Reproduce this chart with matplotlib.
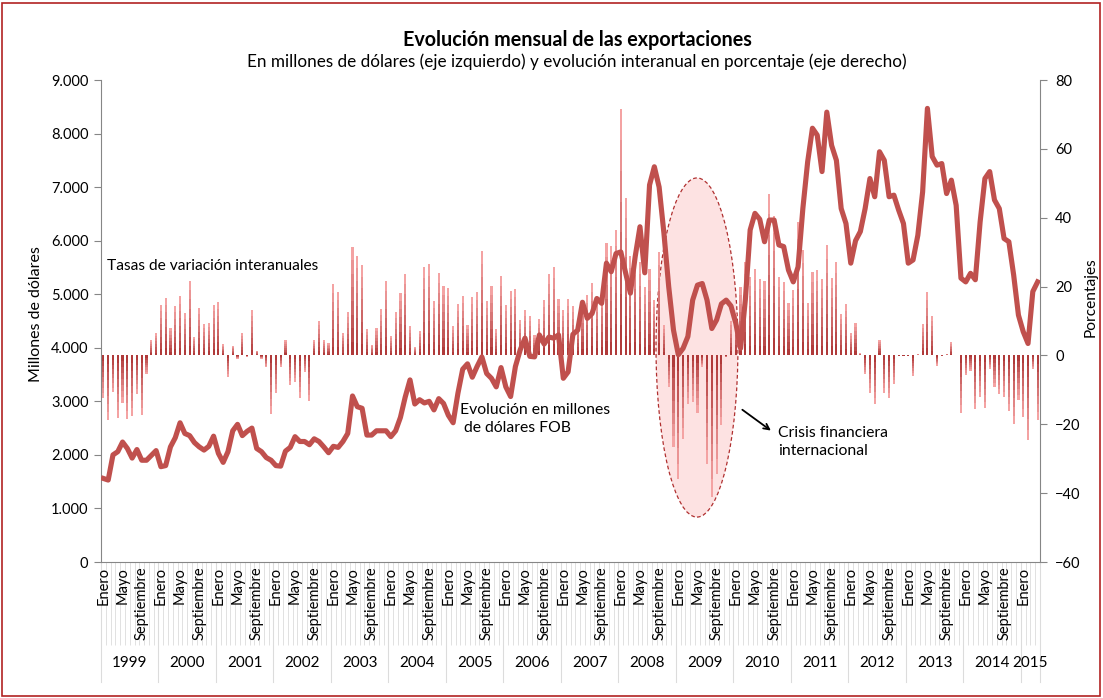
import numpy as np
import pandas as pd
import matplotlib
matplotlib.use('Agg')
import matplotlib.pyplot as plt
import matplotlib.transforms as mtransforms
from matplotlib.patches import Ellipse, Rectangle
from matplotlib.colors import LinearSegmentedColormap

plt.rcParams['font.family'] = ['Lato', 'DejaVu Sans']

# exportaciones mensuales, millones de dólares FOB (ene 1999 - abr 2015)
exportaciones = [
    1560, 1530, 2000, 2060, 2240, 2120, 1940, 2100, 1900, 1900, 1990, 2080,  # 1999
    1780, 1800, 2150, 2320, 2600, 2400, 2360, 2230, 2150, 2090, 2160, 2350,  # 2000
    2030, 1860, 2060, 2450, 2570, 2360, 2440, 2500, 2120, 2060, 1950, 1900,  # 2001
    1800, 1790, 2070, 2140, 2340, 2250, 2250, 2190, 2300, 2250, 2150, 2040,  # 2002
    2160, 2140, 2250, 2400, 3100, 2900, 2870, 2370, 2370, 2450, 2450, 2450,  # 2003
    2340, 2450, 2700, 3080, 3400, 2950, 3030, 2970, 3000, 2840, 3050, 2960,  # 2004
    2740, 2600, 3150, 3600, 3700, 3450, 3650, 3830, 3520, 3430, 3270, 3630,  # 2005
    3270, 3090, 3650, 3960, 4180, 3840, 3830, 4240, 4070, 4200, 4180, 4240,  # 2006
    3430, 3550, 4250, 4330, 4850, 4550, 4640, 4920, 4830, 5580, 5420, 5760,  # 2007
    5790, 5400, 5020, 5700, 6260, 5400, 7040, 7380, 7000, 6140, 5140, 4330,  # 2008
    3870, 3990, 4210, 4890, 5170, 5200, 4890, 4360, 4520, 4820, 4890, 4780,  # 2009
    4460, 3990, 4900, 6200, 6510, 6400, 5980, 6385, 6385, 5920, 5890, 5450,  # 2010
    5230, 5510, 6600, 7470, 8100, 7970, 7290, 8400, 7780, 7500, 6600, 6320,  # 2011
    5580, 6000, 6170, 6600, 7160, 6820, 7660, 7500, 6820, 6850, 6570, 6320,  # 2012
    5580, 5640, 6100, 6910, 8470, 7570, 7410, 7440, 6880, 7130, 6660, 5300,  # 2013
    5230, 5390, 5270, 6350, 7160, 7290, 6760, 6600, 6040, 5980, 5360, 4610,  # 2014
    4300, 4080, 5050, 5230,                                                  # 2015
]

# tasas de variación interanual, %
variacion = [
    -12.5, -18.8, -10.7, -18.1, -13.7, -18.6, -17.6, -11.2, -17.3, -5.5, 4.5, 6.6,
    14.6, 16.8, 8.1, 14.3, 17.2, 12.2, 21.7, 5.4, 13.7, 9.0, 9.3, 14.6,
    15.4, 3.2, -6.2, 2.8, -0.9, 6.4, -0.4, 13.2, 1.4, -0.9, -3.5, -16.9,
    -11.0, -3.3, 4.5, -8.6, -7.6, -12.3, -4.7, -13.2, 4.6, 10.1, 4.5, 3.5,
    20.7, 18.5, 6.6, 12.7, 31.6, 29.0, 26.2, 7.8, 3.0, 8.1, 13.5, 21.5,
    5.7, 12.5, 18.0, 23.6, 8.6, 2.5, 7.1, 25.6, 26.5, 15.9, 24.0, 20.1,
    19.7, 8.6, 14.9, 17.3, 8.8, 17.0, 18.5, 30.3, 15.8, 20.2, 7.6, 23.2,
    14.6, 18.6, 19.3, 10.3, 13.2, 11.5, 5.9, 10.5, 16.1, 23.6, 25.6, 16.3,
    13.2, 16.4, 14.3, 9.5, 15.1, 17.5, 21.1, 17.0, 18.5, 32.7, 31.8, 36.4,
    71.5, 45.6, 29.0, 31.0, 27.0, 20.0, 25.0, 16.0, 30.0, 8.8, -9.3, -26.6,
    -36.0, -24.2, -14.2, -13.4, -16.6, -3.3, -31.4, -41.0, -34.4, -20.3, -0.5, 10.0,
    12.0, 20.0, 27.0, 22.9, 25.0, 22.1, 21.7, 46.8, 40.6, 22.7, 21.3, 15.1,
    19.0, 38.8, 30.6, 15.1, 24.3, 24.8, 22.1, 32.1, 22.4, 27.2, 12.0, 14.8,
    6.4, 9.5, 0.6, -5.5, -10.8, -14.2, 4.6, -10.8, -12.5, -8.3, -0.2, -0.2,
    -0.2, -5.9, 0.4, 9.2, 18.3, 11.4, -3.0, -0.1, 0.5, 3.8, 0.2, -16.6,
    -5.7, -4.5, -15.7, -12.0, -15.4, -3.8, -9.1, -11.3, -12.0, -16.2, -20.0, -13.0,
    -17.8, -24.6, -4.0, -18.8,
]

meses_etiqueta = {1: 'Enero', 5: 'Mayo', 9: 'Septiembre'}

fechas = pd.date_range('1999-01-01', periods=len(exportaciones), freq='MS')
n = len(fechas)
x = np.arange(n)

W, H = 1103, 698
fig = plt.figure(figsize=(W / 100, H / 100), dpi=100)
fig.patch.set_facecolor('white')

# borde rojo del cuadro
fig.patches.append(Rectangle((2 / W, 2 / H), 1 - 5 / W, 1 - 5 / H, transform=fig.transFigure,
                             fill=False, edgecolor='#b22222', lw=1.2))

ax = fig.add_axes([101 / W, (H - 562) / H, 939 / W, 482 / H])
ax2 = ax.twinx()
ax.set_zorder(2)
ax2.set_zorder(1)
ax.patch.set_visible(False)

gris = '#868686'
rojo = '#c0504d'

# ---------------- barras (eje derecho) con degradado ----------------
cmap = LinearSegmentedColormap.from_list('deg', ['#b03a3a', '#f4a3a3'])
n_seg = 8
var = np.array(variacion)
for k in range(n_seg):
    ax2.bar(x, var / n_seg, bottom=var * k / n_seg, width=0.45,
            color=cmap(k / (n_seg - 1)), linewidth=0, zorder=2)

# elipse crisis
elipse = Ellipse((123.9, 2.3), 17.1, 98.5, facecolor='#fde2e2', edgecolor='#b03030',
                 linestyle=(0, (3, 2)), lw=0.9, zorder=1)
ax2.add_patch(elipse)

ax2.set_ylim(-60, 80)
ax2.set_yticks(np.arange(-60, 81, 20))
ax2.set_xlim(-0.5, n - 0.5)

# ---------------- línea (eje izquierdo) ----------------
ax.plot(x, exportaciones, color=rojo, lw=3.7, solid_joinstyle='round', zorder=3)
ax.set_ylim(0, 9000)
ax.set_xlim(-0.5, n - 0.5)
ax.set_yticks(np.arange(0, 9001, 1000))
ax.set_yticklabels([f'{v:,}'.replace(',', '.') for v in range(0, 9001, 1000)])

for a in (ax, ax2):
    for s in a.spines.values():
        s.set_visible(False)
ax.spines['left'].set_visible(True)
ax.spines['left'].set_color(gris)
ax.spines['bottom'].set_visible(True)
ax.spines['bottom'].set_color(gris)
ax2.spines['right'].set_visible(True)
ax2.spines['right'].set_color(gris)

ax.tick_params(axis='y', direction='out', length=5, color=gris, labelsize=10.5, pad=4)
ax2.tick_params(axis='y', direction='out', length=5, color=gris, labelsize=10.5, pad=6)

# marcas mensuales del eje x
ax.set_xticks(np.arange(n + 1) - 0.5)
ax.set_xticklabels([])
ax.tick_params(axis='x', direction='out', length=60, color='#dcdcdc', width=0.6)
ax2.tick_params(axis='x', bottom=False, labelbottom=False)

trans = mtransforms.blended_transform_factory(ax.transData, ax.transAxes)
for i, f in enumerate(fechas):
    if f.month in meses_etiqueta:
        ax.text(i, -0.01, meses_etiqueta[f.month], rotation=90, ha='center', va='top',
                fontsize=10.5, transform=trans)

anios = sorted(set(fechas.year))
for yr in anios:
    idx = np.where(fechas.year == yr)[0]
    ax.plot([idx[0] - 0.5] * 2, [0, -0.249], transform=trans, color='#dcdcdc',
            lw=0.8, clip_on=False)
    ax.text((idx[0] + idx[-1]) / 2, -0.2095, str(yr), ha='center', va='center',
            fontsize=11, transform=trans)
ax.plot([n - 0.5] * 2, [0, -0.249], transform=trans, color='#dcdcdc', lw=0.8, clip_on=False)

# ---------------- textos ----------------
def fx(px):
    return px / W


def fy(py):
    return 1 - py / H


fig.text(fx(577), fy(40), 'Evolución mensual de las exportaciones', ha='center', va='center',
         fontsize=14.2, fontweight='bold')
fig.text(fx(577), fy(62), 'En millones de dólares (eje izquierdo) y evolución interanual en porcentaje (eje derecho)',
         ha='center', va='center', fontsize=12.3)
fig.text(fx(36), fy(314), 'Millones de dólares', rotation=90, ha='center', va='center', fontsize=11.5)
fig.text(fx(1091), fy(297), 'Porcentajes', rotation=90, ha='center', va='center', fontsize=11.2)

fig.text(fx(107), fy(266), 'Tasas de variación interanuales', ha='left', va='center', fontsize=11.2)
fig.text(fx(460), fy(419), 'Evolución en millones\n de dólares FOB', ha='left', va='center',
         fontsize=11.3, linespacing=1.45)
fig.text(fx(778), fy(442), 'Crisis financiera\ninternacional', ha='left', va='center',
         fontsize=11.3, linespacing=1.45)

ax2.annotate('', xy=(139.8, -22.3), xytext=(132.9, -15.3),
             arrowprops=dict(arrowstyle='->', color='black', lw=1.3), zorder=5)

fig.savefig('out.png', dpi=100)
